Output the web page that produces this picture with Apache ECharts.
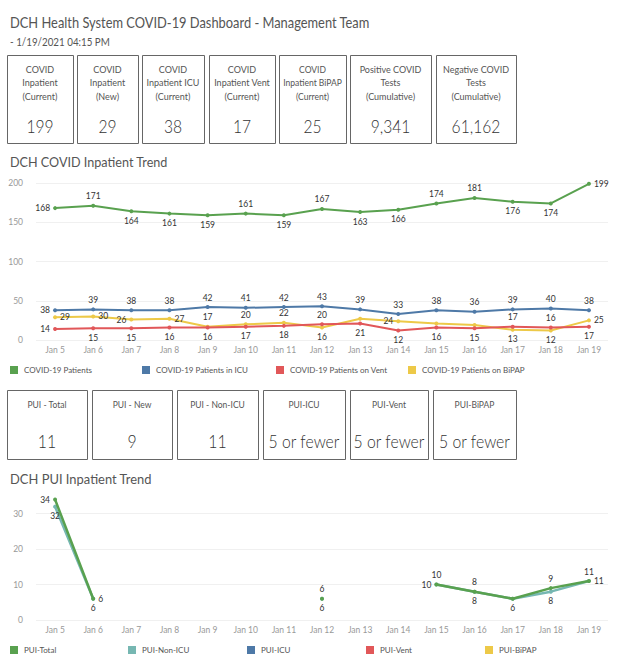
<!DOCTYPE html>
<html><head><meta charset="utf-8">
<script src="https://cdn.jsdelivr.net/npm/echarts@6/dist/echarts.min.js"></script>
<style>html,body{margin:0;padding:0;background:#fff}#c{width:624px;height:662px}</style>
</head><body><div id="c"></div>
<script>
const FONT = "Lato, 'Open Sans', sans-serif";

// ---------- data ----------
const days = ['Jan 5','Jan 6','Jan 7','Jan 8','Jan 9','Jan 10','Jan 11','Jan 12','Jan 13','Jan 14','Jan 15','Jan 16','Jan 17','Jan 18','Jan 19'];
const covidPatients = [168,171,164,161,159,161,159,167,163,166,174,181,176,174,199];
const covidIcu      = [38,39,38,38,42,41,42,43,39,33,38,36,39,40,38];
const covidVent     = [14,15,15,16,16,17,18,20,21,12,16,15,17,16,17];
const covidBipap    = [29,30,26,27,17,20,22,16,27,24,21,19,13,12,25];

const puiTotal  = [34,6,null,null,null,null,null,6,null,null,10,8,6,9,11];
const puiNonIcu = [32,6,null,null,null,null,null,6,null,null,10,8,6,8,11];
const puiIcu    = [null,null,null,null,null,null,null,null,null,null,null,null,null,null,null];
const puiVent   = [null,null,null,null,null,null,null,null,null,null,null,null,null,null,null];
const puiBipap  = [null,null,null,null,null,null,null,null,null,null,null,null,null,null,null];

const covidTicks = [0,50,100,150,200];
const puiTicks = [0,10,20,30];

const kpiLabels = ['COVID\nInpatient\n(Current)','COVID\nInpatient\n(New)','COVID\nInpatient ICU\n(Current)','COVID\nInpatient Vent\n(Current)','COVID\nInpatient BiPAP\n(Current)','Positive COVID\nTests\n(Cumulative)','Negative COVID\nTests\n(Cumulative)'];
const kpiValues = ['199','29','38','17','25','9,341','61,162'];
const puiLabels = ['PUI - Total','PUI - New','PUI - Non-ICU','PUI-ICU','PUI-Vent','PUI-BiPAP'];
const puiValues = ['11','9','11','5 or fewer','5 or fewer','5 or fewer'];

// ---------- label placement (style only) ----------
const posPatients = ['left','top','bottom','bottom','bottom','top','bottom','top','bottom','bottom','top','top','bottom','bottom','right'];
const posIcu      = ['left','top','top','top','top','top','top','top','top','top','top','top','top','top','top'];
const posVent     = ['left','bottom','bottom','bottom','bottom','bottom','bottom','top','bottom','bottom','bottom','bottom','top','top','bottom'];
const posBipap    = ['right','right','left','right','top','top','top','bottom','','left','','','bottom','bottom','right'];
const posPuiTotal = ['left','right','','','','','','top','','','left','top','bottom','top','top'];
const posPuiNon   = ['bottom','bottom','','','','','','bottom','','','top','bottom','','bottom','right'];

// ---------- layout ----------
const kpiBoxes = [[7,73],[77,138],[142,204],[209,275],[279,346],[350,431],[436,516]];
const puiBoxes = [[7,87],[92,172],[177,258],[263,345],[350,428],[433,516]];

const C = {green:'#59a14f', blue:'#4e79a7', red:'#e15759', yellow:'#edc948', teal:'#76b7b2'};

const ctx = document.createElement('canvas').getContext('2d');
function fitScale(text, font, target){
  ctx.font = font;
  const w = ctx.measureText(text).width;
  return w > 0 ? target / w : 1;
}

function withLabels(values, pos){
  return values.map((v,i)=>{
    if (v === null) return null;
    const p = pos[i];
    return {value:v, label:{show: !!p, position: p || 'top'}};
  });
}

function txt(text, x, y, size, color, align, sx, weight){
  const font = (weight ? weight + ' ' : '') + size + 'px ' + FONT;
  return {type:'text', x, y, scaleX: sx || 1, silent:true,
    style:{text, font, fill:color, align, verticalAlign:'middle', lineHeight: 13.4}};
}

const graphic = [];
const titleText = 'DCH Health System COVID-19 Dashboard - Management Team';
graphic.push(txt(titleText, 10, 22, 15.5, '#555', 'left', fitScale(titleText, '15.5px '+FONT, 360)));
graphic.push(txt('- 1/19/2021 04:15 PM', 10, 42, 10.5, '#555', 'left', fitScale('- 1/19/2021 04:15 PM', '10.5px '+FONT, 100)));
kpiBoxes.forEach((b,i)=>{
  graphic.push({type:'rect', silent:true, shape:{x:b[0]+0.5,y:55.5,width:b[1]-b[0],height:88}, style:{fill:'#fff', stroke:'#666', lineWidth:1}});
  graphic.push(txt(kpiLabels[i], (b[0]+b[1])/2, 82.5, i===4 ? 9.5 : 10, '#555', 'center', 0.9));
  graphic.push(txt(kpiValues[i], (b[0]+b[1])/2, 126, 17, '#333', 'center', 0.92, 300));
});
graphic.push(txt('DCH COVID Inpatient Trend', 10, 161.5, 13, '#555', 'left', fitScale('DCH COVID Inpatient Trend', '13px '+FONT, 158)));
puiBoxes.forEach((b,i)=>{
  graphic.push({type:'rect', silent:true, shape:{x:b[0]+0.5,y:390.5,width:b[1]-b[0],height:69}, style:{fill:'#fff', stroke:'#666', lineWidth:1}});
  graphic.push(txt(puiLabels[i], (b[0]+b[1])/2, 404.5, 8.5, '#555', 'center', 1));
  graphic.push(txt(puiValues[i], (b[0]+b[1])/2, 441, 17, '#333', 'center', 0.93, 300));
});
graphic.push(txt('DCH PUI Inpatient Trend', 10, 478.5, 13, '#555', 'left', fitScale('DCH PUI Inpatient Trend', '13px '+FONT, 142)));

const axisLabelStyle = {color:'#999', fontSize:8.5, fontFamily:FONT};
const lineLabel = {color:'#333', fontSize:8.5, fontFamily:FONT, distance:3};

function lineSeries(name, data, pos, color, xi, z, width){
  return {
    name, type:'line', xAxisIndex:xi, yAxisIndex:xi, data:withLabels(data,pos),
    symbol:'circle', symbolSize:4, showSymbol:true, connectNulls:false, z:z,
    lineStyle:{color, width:width}, itemStyle:{color},
    label:Object.assign({show:true}, lineLabel),
    emphasis:{disabled:true}, animation:false
  };
}

function legendItem(name, left, top){
  return {data:[name], left, top, padding:0, icon:'rect', itemWidth:8, itemHeight:8, itemGap:0,
    textStyle:{color:'#555', fontSize:8, fontFamily:FONT, padding:[0,0,0,1]}, selectedMode:false};
}

const option = {
  animation:false,
  graphic,
  grid:[
    {left:36, right:16, top:183, height:157},
    {left:36, right:16, top:496, height:124}
  ],
  xAxis:[
    {type:'category', gridIndex:0, data:days, boundaryGap:true, axisLine:{show:false}, axisTick:{show:false}, axisLabel:Object.assign({margin:5}, axisLabelStyle)},
    {type:'category', gridIndex:1, data:days, boundaryGap:true, axisLine:{show:false}, axisTick:{show:false}, axisLabel:Object.assign({margin:5}, axisLabelStyle)}
  ],
  yAxis:[
    {type:'value', gridIndex:0, min:covidTicks[0], max:covidTicks[covidTicks.length-1], interval:50, axisLine:{show:false}, axisTick:{show:false},
     axisLabel:Object.assign({margin:13}, axisLabelStyle), splitLine:{lineStyle:{color:'#f0f0f0'}}},
    {type:'value', gridIndex:1, min:puiTicks[0], max:35, interval:10, axisLine:{show:false}, axisTick:{show:false},
     axisLabel:Object.assign({margin:13, showMaxLabel:false}, axisLabelStyle), splitLine:{showMaxLine:false, lineStyle:{color:'#f0f0f0'}}}
  ],
  legend:[
    legendItem('COVID-19 Patients',10,366),
    legendItem('COVID-19 Patients in ICU',142,366),
    legendItem('COVID-19 Patients on Vent',276,366),
    legendItem('COVID-19 Patients on BiPAP',408,366),
    legendItem('PUI-Total',10,646),
    legendItem('PUI-Non-ICU',128,646),
    legendItem('PUI-ICU',247,646),
    legendItem('PUI-Vent',366,646),
    legendItem('PUI-BiPAP',485,646)
  ],
  series:[
    lineSeries('COVID-19 Patients', covidPatients, posPatients, C.green, 0, 5, 2),
    lineSeries('COVID-19 Patients in ICU', covidIcu, posIcu, C.blue, 0, 4, 2),
    lineSeries('COVID-19 Patients on Vent', covidVent, posVent, C.red, 0, 3, 2),
    lineSeries('COVID-19 Patients on BiPAP', covidBipap, posBipap, C.yellow, 0, 2, 2),
    lineSeries('PUI-Total', puiTotal, posPuiTotal, C.green, 1, 5, 2.5),
    lineSeries('PUI-Non-ICU', puiNonIcu, posPuiNon, C.teal, 1, 4, 2.5),
    lineSeries('PUI-ICU', puiIcu, posPuiNon, C.blue, 1, 3, 2.5),
    lineSeries('PUI-Vent', puiVent, posPuiNon, C.red, 1, 3, 2.5),
    lineSeries('PUI-BiPAP', puiBipap, posPuiNon, C.yellow, 1, 3, 2.5)
  ]
};

const chart = echarts.init(document.getElementById('c'), null, {renderer:'svg'});
chart.setOption(option);
</script>
</body></html>
